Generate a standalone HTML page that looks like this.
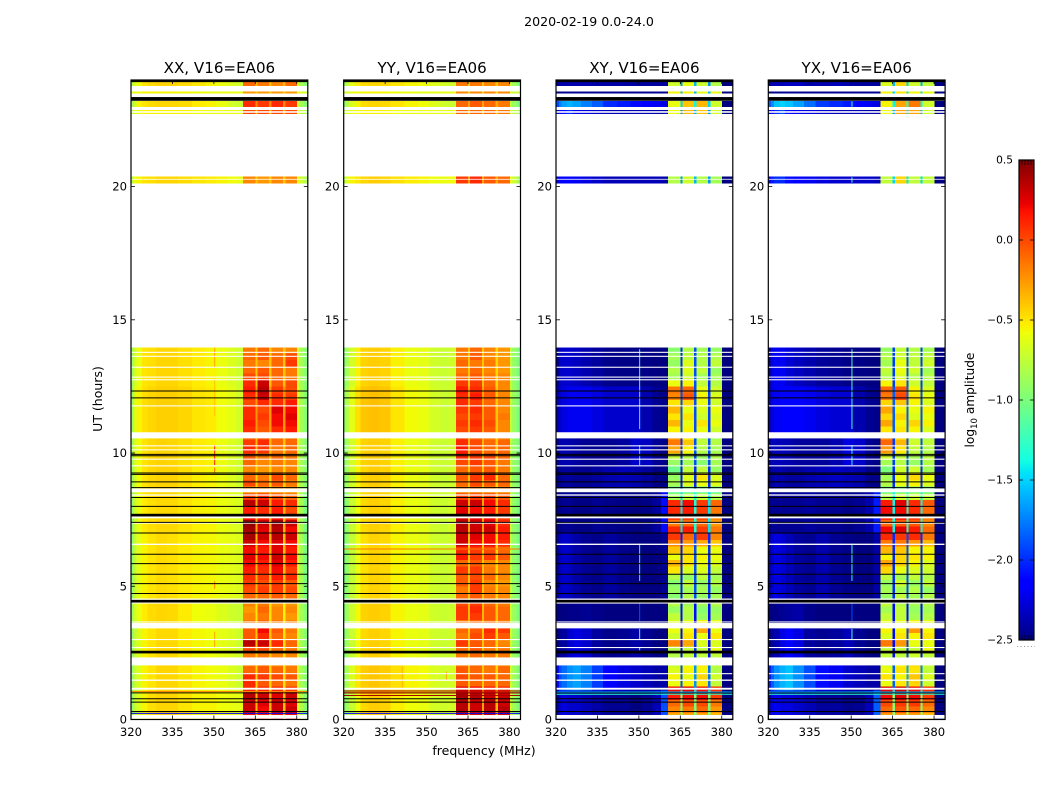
<!DOCTYPE html>
<html>
<head>
<meta charset="utf-8">
<title>2020-02-19 amplitude waterfall</title>
<style>
html,body{margin:0;padding:0;background:#fff;width:1050px;height:800px;overflow:hidden}
svg{display:block}
text{font-family:"DejaVu Sans","Liberation Sans",sans-serif;fill:#000}
</style>
</head>
<body>
<svg id="figure" xmlns="http://www.w3.org/2000/svg" width="1050" height="800" viewBox="0 0 1050 800"></svg>
<script>
// ---------- axis labels ----------
const panelTitles = ["XX, V16=EA06","YY, V16=EA06","XY, V16=EA06","YX, V16=EA06"];
const panelKeys = ["xx","yy","xy","yx"];
const freqTicks = [320,335,350,365,380];
const utTicks = [0,5,10,15,20];
const colorbarTicks = [0.5,0,-0.5,-1,-1.5,-2,-2.5];
const freqRange = [320,384];
const utRange = [0,24];
const ampRange = [-2.5,0.5];

// ---------- frequency zones (MHz) ----------
const lowZoneEdges = [320,321,322,324,326,329,333,337,342,347,351,355,358,360.6];
const gapZones = [[364.9,365.8],[369.9,370.8],[374.9,375.9]];
const edgeZoneEdges = [380,381,382.5,384];
const blockZones = [[360.6,364.9],[365.8,369.9],[370.8,374.9],[375.9,380]];

// ---------- time bands (UT hours) ----------
const coarseBands = [[0,1.1],[1.1,2.05],[2.33,3.6],[3.6,4.5],[4.5,7],[7,8.65],[8.65,9.5],[9.5,10.75],[10.75,12.5],[12.5,14],[20.13,20.37],[22.73,22.88],[23,23.22],[23.5,23.56],[23.78,24]];
const fineRowHours = 0.25;
const upperBands = [[20.13,20.37],[22.73,22.88],[23,23.22],[23.5,23.56],[23.78,24]];

// ---------- flagged (white) and bad (black) times ----------
const flagRanges = [[0.03,0.17],[1.12,1.19],[1.45,1.5],[1.7,1.74],[2.03,2.33],[2.68,2.72],[2.98,3.02],[3.42,3.62],[3.64,3.68],[4.35,4.39],[4.49,4.54],[6.55,6.6],[7.35,7.4],[7.55,7.62],[8.4,8.45],[8.53,8.67],[9.5,9.54],[9.75,9.79],[10.1,10.14],[10.25,10.29],[10.55,10.78],[11.75,11.79],[12.73,12.77],[12.83,12.87],[13.2,13.24],[13.61,13.65],[13.76,13.8],[13.96,14],[20.26,20.29],[22.77,22.83]];
const blackLines = [0.3,0.65,0.78,1.0,4.73,5.1,5.45,5.85,6.2,7.0,7.4,8.0,8.33,8.7,8.92,9.2,9.25,9.9,9.95,12.07,12.33];
const thickBlackRanges = [[2.48,2.58],[4.39,4.49],[7.62,7.72],[23.22,23.36],[23.92,24]];

// ---------- single scans with unusual amplitude: [UT, log10 amp] ----------
const xxScans = [[0.23,-2.2],[1.05,-.2]];
const yyScans = [[0.23,-2.2],[0.9,.4],[1.0,.4],[1.07,.4],[6.4,-.15]];
const xyScans = [[0.95,-1.3],[1.03,-1.6]];
const yxScans = [[0.95,-1.3],[1.03,-1.6]];

// ---------- narrow interference at one channel: [MHz, UT start, UT end, log10 amp] ----------
const xxRfi = [[350.1,9.55,10.3,.1],[350.1,9.25,9.45,-.1],[350.1,13.2,13.95,-.3],[350.1,11.4,12.8,-.4],[350.1,4.9,5.2,-.2],[350.1,2.7,3.3,-.3]];
const yyRfi = [[341,1.2,2,-.35],[357,1.5,1.8,-.3]];
const xyRfi = [[350.1,10.9,13.9,-1.2],[350.1,9.55,10.3,-1.3],[350.1,5.2,6.6,-1.3],[350.1,3.0,3.4,-1.2],[350.1,3.7,4.4,-1.9],[350.1,2.6,2.7,-1.2]];
const yxRfi = [[350.1,10.9,13.9,-1.2],[350.1,9.55,10.3,-1.3],[350.1,5.2,6.6,-1.3],[350.1,3.0,3.4,-1.2],[350.1,3.7,4.4,-1.9],[350.1,20.15,20.35,-1.2],[350.1,23,23.2,-1.2]];

// ---------- low-frequency + gap + upper-edge values per coarse band (log10 amp) ----------
const xxCoarse = [
[-.9,-.75,-.65,-.55,-.48,-.45,-.45,-.5,-.55,-.55,-.58,-.6,-.62,-.35,-.35,-.4,-.65,-.8,-.95],
[-.9,-.75,-.65,-.55,-.5,-.45,-.45,-.5,-.55,-.57,-.6,-.65,-.7,-.45,-.45,-.5,-.7,-.85,-.95],
[-.9,-.75,-.65,-.55,-.5,-.46,-.46,-.52,-.56,-.58,-.62,-.65,-.7,-.4,-.4,-.5,-.7,-.85,-.95],
[-.85,-.7,-.6,-.52,-.47,-.45,-.46,-.52,-.58,-.6,-.65,-.7,-.72,-.5,-.5,-.55,-.7,-.85,-.95],
[-.9,-.75,-.62,-.55,-.5,-.47,-.48,-.52,-.55,-.56,-.6,-.62,-.65,-.35,-.35,-.4,-.7,-.85,-1],
[-.9,-.72,-.6,-.52,-.48,-.46,-.46,-.5,-.54,-.55,-.6,-.63,-.66,-.3,-.3,-.35,-.7,-.85,-1],
[-.85,-.7,-.58,-.5,-.46,-.44,-.44,-.48,-.53,-.55,-.6,-.64,-.7,-.45,-.45,-.45,-.7,-.85,-.95],
[-.85,-.68,-.57,-.5,-.46,-.44,-.45,-.48,-.52,-.54,-.6,-.65,-.7,-.35,-.35,-.4,-.7,-.85,-.95],
[-.85,-.65,-.55,-.48,-.45,-.43,-.43,-.45,-.5,-.52,-.58,-.62,-.68,-.25,-.25,-.25,-.65,-.85,-.95],
[-.85,-.7,-.6,-.5,-.48,-.45,-.45,-.48,-.52,-.55,-.6,-.65,-.7,-.4,-.4,-.4,-.7,-.85,-.95],
[-.75,-.6,-.55,-.5,-.48,-.45,-.45,-.47,-.5,-.52,-.55,-.58,-.6,-.4,-.4,-.4,-.6,-.7,-.8],
[-.75,-.65,-.6,-.55,-.55,-.55,-.55,-.55,-.58,-.6,-.6,-.6,-.62,-.35,-.35,-.35,-.65,-.75,-.85],
[-.85,-.7,-.55,-.5,-.47,-.45,-.45,-.47,-.52,-.55,-.6,-.68,-.72,-.2,-.2,-.2,-.7,-.85,-.95],
[-.65,-.6,-.58,-.55,-.55,-.55,-.55,-.56,-.58,-.6,-.6,-.6,-.6,-.4,-.4,-.4,-.6,-.65,-.7],
[-.8,-.65,-.58,-.5,-.46,-.44,-.44,-.46,-.5,-.55,-.6,-.65,-.68,-.35,-.35,-.35,-.7,-.85,-.95]];
const yyCoarse = [
[-.95,-.85,-.72,-.58,-.46,-.42,-.44,-.53,-.58,-.6,-.68,-.7,-.68,-.3,-.3,-.35,-.7,-.85,-1],
[-.9,-.8,-.65,-.5,-.42,-.4,-.42,-.48,-.55,-.57,-.66,-.7,-.68,-.4,-.4,-.45,-.7,-.85,-1],
[-.95,-.85,-.72,-.58,-.46,-.43,-.45,-.55,-.6,-.62,-.7,-.72,-.7,-.4,-.4,-.45,-.72,-.88,-1],
[-.95,-.85,-.7,-.56,-.44,-.42,-.44,-.55,-.6,-.62,-.7,-.72,-.7,-.35,-.35,-.4,-.72,-.88,-1],
[-1,-.88,-.74,-.6,-.48,-.44,-.46,-.55,-.6,-.62,-.7,-.72,-.7,-.4,-.4,-.45,-.75,-.9,-1.02],
[-1,-.88,-.72,-.58,-.46,-.43,-.45,-.54,-.6,-.62,-.7,-.72,-.68,-.3,-.3,-.35,-.75,-.9,-1.02],
[-.95,-.82,-.7,-.55,-.45,-.42,-.44,-.54,-.6,-.62,-.7,-.72,-.7,-.4,-.4,-.45,-.75,-.9,-1],
[-.95,-.82,-.68,-.54,-.44,-.42,-.44,-.54,-.6,-.62,-.7,-.72,-.7,-.35,-.35,-.4,-.75,-.9,-1],
[-.9,-.78,-.62,-.48,-.4,-.38,-.4,-.5,-.57,-.6,-.68,-.72,-.7,-.3,-.3,-.4,-.75,-.88,-1],
[-.95,-.82,-.68,-.54,-.44,-.42,-.44,-.54,-.6,-.62,-.7,-.72,-.7,-.4,-.4,-.45,-.75,-.9,-1],
[-.75,-.62,-.55,-.5,-.45,-.42,-.44,-.48,-.52,-.55,-.58,-.6,-.58,-.3,-.3,-.3,-.6,-.7,-.85],
[-.75,-.68,-.62,-.58,-.55,-.55,-.55,-.58,-.6,-.6,-.62,-.62,-.62,-.4,-.4,-.4,-.65,-.75,-.85],
[-.9,-.78,-.65,-.55,-.47,-.45,-.46,-.5,-.55,-.58,-.65,-.7,-.72,-.3,-.3,-.3,-.75,-.88,-1],
[-.7,-.65,-.6,-.58,-.56,-.55,-.55,-.58,-.6,-.62,-.62,-.62,-.62,-.45,-.45,-.45,-.65,-.7,-.75],
[-.85,-.72,-.62,-.52,-.47,-.45,-.46,-.5,-.55,-.58,-.64,-.68,-.7,-.4,-.4,-.4,-.72,-.85,-.98]];
const xyCoarse = [
[-2.4,-2.3,-2.25,-2.3,-2.3,-2.35,-2.4,-2.45,-2.45,-2.5,-2.45,-2.35,-1.9,-1,-1,-1,-2.5,-2.5,-2.5],
[-2.1,-1.9,-1.8,-1.7,-1.65,-1.75,-1.95,-2.15,-2.25,-2.3,-2.35,-2.4,-2.4,-1.9,-1.7,-1.8,-2.5,-2.5,-2.5],
[-2.5,-2.45,-2.42,-2.3,-2.25,-2.3,-2.42,-2.47,-2.45,-2.4,-2.45,-2.5,-2.5,-2.1,-2,-2.1,-2.5,-2.5,-2.5],
[-2.5,-2.5,-2.5,-2.47,-2.47,-2.45,-2.47,-2.5,-2.5,-2.5,-2.5,-2.5,-2.5,-2.1,-2.1,-2.1,-2.5,-2.5,-2.5],
[-2.42,-2.35,-2.3,-2.33,-2.4,-2.45,-2.47,-2.42,-2.47,-2.5,-2.5,-2.5,-2.45,-2.05,-1.9,-2,-2.5,-2.5,-2.5],
[-2.5,-2.48,-2.45,-2.45,-2.48,-2.48,-2.45,-2.47,-2.48,-2.5,-2.48,-2.42,-2.1,-1.45,-1.35,-1.45,-2.5,-2.5,-2.5],
[-2.48,-2.45,-2.42,-2.42,-2.45,-2.45,-2.42,-2.38,-2.35,-2.38,-2.42,-2.48,-2.48,-2.05,-2,-2,-2.5,-2.5,-2.5],
[-2.45,-2.38,-2.38,-2.38,-2.42,-2.45,-2.45,-2.45,-2.42,-2.3,-2.33,-2.45,-2.48,-2,-1.9,-1.9,-2.5,-2.5,-2.5],
[-2.38,-2.3,-2.25,-2.2,-2.2,-2.2,-2.25,-2.3,-2.3,-2.3,-2.38,-2.45,-2.47,-1.9,-1.9,-1.95,-2.5,-2.5,-2.5],
[-2.45,-2.33,-2.3,-2.3,-2.33,-2.38,-2.42,-2.47,-2.48,-2.48,-2.48,-2.5,-2.5,-2,-1.9,-2,-2.5,-2.5,-2.5],
[-2.25,-2.2,-2.15,-2.15,-2.2,-2.25,-2.3,-2.35,-2.35,-2.35,-2.35,-2.35,-2.4,-1.7,-1.6,-1.7,-2.5,-2.5,-2.5],
[-2.3,-2.2,-2.1,-2,-2.2,-2.25,-2.3,-2.35,-2.35,-2.35,-2.35,-2.4,-2.4,-1.7,-1.6,-1.7,-2.5,-2.5,-2.5],
[-1.9,-1.75,-1.65,-1.6,-1.65,-1.75,-1.85,-2,-2.05,-2.1,-2.15,-2.2,-2.25,-1.5,-1.4,-1.5,-2.5,-2.5,-2.5],
[-2.5,-2.5,-2.45,-2.45,-2.45,-2.45,-2.45,-2.45,-2.45,-2.45,-2.45,-2.45,-2.45,-1.6,-1.6,-1.6,-2.5,-2.5,-2.5],
[-2.45,-2.4,-2.38,-2.38,-2.38,-2.38,-2.4,-2.4,-2.4,-2.42,-2.42,-2.42,-2.42,-1.7,-1.6,-1.7,-2.5,-2.5,-2.5]];
const yxCoarse = [
[-2.35,-2.25,-2.2,-2.25,-2.25,-2.3,-2.35,-2.42,-2.42,-2.47,-2.45,-2.35,-1.85,-.95,-.95,-1,-2.5,-2.5,-2.5],
[-2.05,-1.85,-1.7,-1.6,-1.55,-1.7,-1.9,-2.1,-2.2,-2.3,-2.35,-2.4,-2.4,-1.85,-1.65,-1.75,-2.5,-2.5,-2.5],
[-2.5,-2.45,-2.38,-2.25,-2.15,-2.25,-2.42,-2.45,-2.42,-2.35,-2.45,-2.5,-2.5,-2.1,-1.95,-2.1,-2.5,-2.5,-2.5],
[-2.5,-2.5,-2.47,-2.45,-2.42,-2.4,-2.47,-2.5,-2.5,-2.5,-2.5,-2.5,-2.5,-2.1,-2.1,-2.1,-2.5,-2.5,-2.5],
[-2.38,-2.3,-2.25,-2.28,-2.35,-2.42,-2.45,-2.38,-2.45,-2.48,-2.5,-2.5,-2.4,-2,-1.9,-2,-2.5,-2.5,-2.5],
[-2.48,-2.45,-2.45,-2.45,-2.45,-2.45,-2.42,-2.45,-2.45,-2.48,-2.45,-2.38,-2.05,-1.4,-1.3,-1.4,-2.5,-2.5,-2.5],
[-2.45,-2.42,-2.38,-2.38,-2.42,-2.42,-2.38,-2.35,-2.32,-2.35,-2.38,-2.47,-2.48,-2,-1.95,-2,-2.5,-2.5,-2.5],
[-2.42,-2.35,-2.35,-2.35,-2.38,-2.42,-2.43,-2.43,-2.38,-2.25,-2.3,-2.45,-2.48,-1.95,-1.9,-1.9,-2.5,-2.5,-2.5],
[-2.33,-2.25,-2.2,-2.15,-2.15,-2.15,-2.2,-2.25,-2.28,-2.28,-2.38,-2.45,-2.47,-1.85,-1.85,-1.9,-2.5,-2.5,-2.5],
[-2.38,-2.25,-2.2,-2.2,-2.28,-2.33,-2.38,-2.43,-2.45,-2.48,-2.48,-2.5,-2.5,-1.95,-1.9,-1.95,-2.5,-2.5,-2.5],
[-2.15,-2.05,-2,-2,-2.1,-2.15,-2.2,-2.25,-2.3,-2.3,-2.3,-2.3,-2.35,-1.5,-1.45,-1.5,-2.5,-2.5,-2.5],
[-2.2,-2.1,-2,-1.9,-2.1,-2.2,-2.25,-2.3,-2.35,-2.35,-2.35,-2.4,-2.4,-1.6,-1.5,-1.6,-2.5,-2.5,-2.5],
[-1.85,-1.7,-1.55,-1.5,-1.55,-1.65,-1.8,-1.95,-2,-2.05,-2.15,-2.2,-2.25,-1.4,-1.3,-1.4,-2.5,-2.5,-2.5],
[-2.5,-2.5,-2.45,-2.45,-2.45,-2.45,-2.45,-2.45,-2.45,-2.45,-2.45,-2.45,-2.45,-1.5,-1.5,-1.5,-2.5,-2.5,-2.5],
[-2.42,-2.38,-2.35,-2.35,-2.32,-2.32,-2.38,-2.38,-2.35,-2.38,-2.42,-2.42,-2.42,-1.6,-1.5,-1.6,-2.5,-2.5,-2.5]];

// ---------- the four bright sub-band blocks: one row per 0.25 h from UT 0 to 14 ----------
const xxBlocks = [
[.2,.15,.2,.2],[.3,.2,.3,.3],[.3,.25,.3,.25],[.35,.3,.25,.3],[.1,.1,.1,.05],[.1,-.05,-.1,-.15],[.1,.05,0,-.05],[-.1,-.05,-.1,-.15],
[-.15,-.1,-.2,-.2],[-.15,-.15,-.2,-.2],[0,0,-.1,-.15],[.35,.3,.1,-.1],[-.05,.1,-.1,-.2],[-.05,.2,-.05,-.15],[-.15,-.1,-.15,-.2],[-.2,-.15,-.2,-.25],
[-.25,-.1,-.2,-.2],[-.2,-.15,-.25,-.25],[-.1,-.1,-.05,-.1],[0,.05,.05,0],[.05,0,.05,-.05],[.1,.05,.15,.1],[.15,.1,.2,.05],[.2,.15,.25,.15],
[.25,.2,.3,.2],[.2,.15,.25,.15],[.3,.2,.25,.2],[.4,.3,.35,.3],[.4,.25,.35,.2],[.45,.3,.4,.3],[.2,.15,.2,.05],[.15,.1,.15,0],
[.35,.3,.15,.1],[.05,.1,0,-.1],[-.25,-.2,-.25,-.25],[0,-.1,-.05,-.15],[-.1,-.15,0,-.1],[-.2,-.25,-.2,-.2],[-.1,-.2,-.15,-.2],[-.05,-.15,-.1,-.15],
[.1,.05,-.15,-.1],[.05,.1,-.1,-.1],[-.05,0,-.1,-.1],[.1,-.05,.1,.15],[.15,0,.2,.2],[.1,.05,.2,.25],[.1,0,.25,.2],[0,.1,.1,.15],
[.1,.3,.1,.05],[.15,.35,.05,0],[.1,.3,-.05,0],[0,0,-.1,-.15],[-.1,-.05,-.1,-.15],[-.15,-.2,-.1,.05],[-.1,-.05,-.1,0],[-.15,-.1,-.2,-.2]];
const yyBlocks = [
[.3,.25,.3,.3],[.35,.3,.35,.35],[.35,.3,.35,.3],[.4,.35,.3,.3],[.25,.2,.15,.1],[-.05,-.1,-.1,-.1],[0,-.05,-.05,-.1],[-.05,-.1,-.15,-.1],
[-.15,-.1,-.1,-.15],[-.15,-.1,-.15,-.15],[-.1,-.05,-.15,-.15],[.05,-.05,-.1,-.2],[-.15,0,.05,-.05],[-.1,-.05,.1,.05],[-.15,-.1,-.1,-.15],[.05,.05,-.05,-.1],
[.05,.1,-.05,-.1],[0,.05,-.1,-.15],[-.1,-.05,-.15,-.2],[-.15,.05,-.15,-.2],[-.05,.05,-.2,-.25],[-.05,0,-.1,-.2],[.05,.05,-.15,-.2],[-.1,-.05,-.2,-.2],
[.15,.05,.05,-.05],[.1,.05,0,-.1],[.3,.2,.2,.1],[.3,.25,.2,.15],[.35,.3,.3,.15],[.35,.3,.25,.1],[.3,.25,.2,.05],[.25,.2,.15,.05],
[.3,.3,.2,.1],[.05,.05,.05,-.05],[-.2,-.15,-.2,-.2],[-.1,0,-.05,-.1],[-.05,.05,.1,-.1],[-.1,-.05,-.05,-.15],[0,.05,-.05,-.15],[.1,.05,0,-.1],
[.15,0,-.1,-.1],[.1,0,-.1,-.1],[.05,-.05,-.15,-.15],[0,.05,-.05,-.2],[.05,.1,0,-.2],[0,.05,-.05,-.15],[.05,.1,-.05,-.2],[.1,.05,-.1,-.2],
[.1,.15,-.05,-.2],[.15,.1,-.05,-.2],[.05,.05,-.1,-.2],[-.1,-.05,-.15,-.2],[-.15,-.1,-.2,-.25],[-.1,-.15,-.15,-.25],[-.15,-.05,-.2,-.25],[-.15,-.1,-.2,-.25]];
const xyBlocks = [
[-.3,-.3,-.3,-.35],[-.2,-.15,-.1,-.25],[-.1,0,0,-.15],[.15,.2,.2,.05],[.2,.25,.2,.1],[-.6,-.55,-.5,-.75],[-.55,-.6,-.45,-.7],[-.65,-.55,-.55,-.8],
[-.75,-.6,-.5,-.75],[-.8,-.75,-.75,-.75],[-.8,-.75,-.75,-.6],[-.2,-.3,-.65,-.65],[-.7,-.5,-.6,-.5],[-.6,-.55,-.3,-.6],[-.65,-.6,-.55,-.6],[-.75,-.8,-.9,-.85],
[-.9,-.8,-.95,-.9],[-.8,-.85,-.85,-.8],[-.95,-.8,-.9,-.85],[-.9,-.85,-.85,-.9],[-.95,-.75,-.9,-.8],[-.8,-.9,-.75,-.85],[-.5,-.65,-.65,-.75],[-.35,-.5,-.6,-.65],
[-.6,-.5,-.55,-.6],[-.4,-.45,-.6,-.6],[-.2,-.25,-.3,-.4],[.05,-.1,.05,-.2],[.1,.15,.05,-.15],[-.15,-.1,-.1,-.25],[.05,.05,0,-.2],[.1,.15,.05,-.15],
[.1,.2,.05,-.1],[-.85,-.75,-.75,-.8],[-1.1,-1.1,-1.05,-1.1],[-.85,-.65,-.6,-.65],[-.9,-.65,-.5,-.65],[-1.05,-.75,-.75,-.9],[-.9,-.85,-.95,-.85],[-.75,-.8,-.9,-.8],
[-.3,-.55,-.8,-.85],[-.15,-.4,-.75,-.8],[-.25,-.5,-.8,-.85],[-.55,-.55,-.6,-.7],[-.35,-.6,-.5,-.6],[-.5,-.5,-.7,-.65],[-.35,-.6,-.65,-.6],[-.5,-.45,-.6,-.7],
[-.2,-.05,-.55,-.65],[-.15,-.1,-.6,-.7],[-.6,-.55,-.75,-.8],[-.85,-.7,-.85,-.85],[-.8,-.65,-.75,-.9],[-.9,-.65,-.8,-.75],[-.85,-.75,-.8,-.8],[-.95,-.8,-.85,-.9]];
const yxBlocks = [
[-.25,-.25,-.25,-.35],[-.1,-.05,-.1,-.2],[0,.05,.05,-.1],[.2,.25,.2,.05],[.25,.3,.2,.1],[-.6,-.5,-.45,-.7],[-.5,-.55,-.4,-.65],[-.6,-.5,-.5,-.75],
[-.7,-.55,-.45,-.7],[-.75,-.75,-.7,-.75],[-.75,-.75,-.75,-.6],[-.15,-.25,-.6,-.6],[-.65,-.5,-.55,-.5],[-.55,-.55,-.25,-.55],[-.6,-.6,-.55,-.6],[-.75,-.75,-.85,-.8],
[-.85,-.75,-.9,-.85],[-.75,-.8,-.85,-.8],[-.9,-.75,-.85,-.8],[-.85,-.85,-.8,-.9],[-.9,-.7,-.9,-.75],[-.75,-.85,-.75,-.8],[-.45,-.6,-.65,-.7],[-.3,-.45,-.55,-.65],
[-.55,-.45,-.5,-.55],[-.35,-.4,-.55,-.55],[-.15,-.15,-.25,-.35],[.1,.05,.1,-.15],[.2,.25,.15,-.1],[-.1,-.05,-.05,-.2],[.1,.15,.05,-.15],[.2,.2,.1,-.1],
[.15,.25,.1,-.05],[-.8,-.7,-.7,-.75],[-1.05,-1.05,-1,-1.05],[-.8,-.6,-.55,-.65],[-.85,-.6,-.45,-.6],[-1,-.7,-.7,-.85],[-.85,-.8,-.9,-.8],[-.7,-.75,-.85,-.75],
[-.25,-.5,-.75,-.8],[-.1,-.35,-.7,-.75],[-.2,-.45,-.75,-.8],[-.5,-.5,-.55,-.65],[-.3,-.55,-.45,-.55],[-.45,-.45,-.65,-.6],[-.3,-.55,-.6,-.55],[-.45,-.4,-.55,-.65],
[-.15,0,-.5,-.6],[-.1,-.05,-.55,-.65],[-.55,-.5,-.7,-.75],[-.8,-.65,-.8,-.8],[-.75,-.6,-.7,-.85],[-.85,-.6,-.75,-.7],[-.8,-.7,-.75,-.75],[-.9,-.75,-.8,-.85]];

// ---------- block values for the isolated scans above UT 14 ----------
const xxUpper = [[-.2,-.25,-.2,-.2],[0,0,0,0],[.1,.05,.1,.05],[-.25,-.25,-.25,-.25],[-.1,-.15,-.2,-.1]];
const yyUpper = [[.05,.1,-.05,-.1],[-.1,-.1,-.1,-.15],[-.1,-.05,-.1,-.15],[-.2,-.2,-.2,-.2],[-.15,-.15,-.2,-.2]];
const xyUpper = [[-.8,-.7,-.8,-.85],[-.6,-.35,-.4,-.7],[-.6,-.4,-.35,-.7],[-.55,-.55,-.6,-.6],[-.7,-.6,-.7,-.8]];
const yxUpper = [[-.75,-.45,-.75,-.75],[-.6,-.3,-.3,-.7],[-.55,-.3,-.15,-.7],[-.55,-.5,-.55,-.6],[-.65,-.45,-.7,-.75]];

const coarseByPanel = {xx:xxCoarse,yy:yyCoarse,xy:xyCoarse,yx:yxCoarse};
const blocksByPanel = {xx:xxBlocks,yy:yyBlocks,xy:xyBlocks,yx:yxBlocks};
const upperByPanel = {xx:xxUpper,yy:yyUpper,xy:xyUpper,yx:yxUpper};
const scansByPanel = {xx:xxScans,yy:yyScans,xy:xyScans,yx:yxScans};
const rfiByPanel = {xx:xxRfi,yy:yyRfi,xy:xyRfi,yx:yxRfi};

// ---------- layout and scales ----------
const NS = 'http://www.w3.org/2000/svg';
const svg = document.getElementById('figure');
const panelLefts = [131,343.7,556,768.3];
const plotW = 176.8, plotTop = 80, plotBottom = 719.5;
const xScale = (left, f) => left + (f - freqRange[0]) / (freqRange[1] - freqRange[0]) * plotW;
const yScale = ut => plotBottom - (ut - utRange[0]) / (utRange[1] - utRange[0]) * (plotBottom - plotTop);
const cbTop = 160, cbBottom = 640, cbLeft = 1019, cbRight = 1034;
const cbScale = v => cbBottom - (v - ampRange[0]) / (ampRange[1] - ampRange[0]) * (cbBottom - cbTop);

function jet(v){
  const t = Math.max(0, Math.min(1, (v - ampRange[0]) / (ampRange[1] - ampRange[0])));
  const ramp = (a,b,c,d) => Math.max(0, Math.min(1, Math.min((t-a)/(b-a), (d-t)/(d-c))));
  const r = t < .89 ? Math.max(0, Math.min(1, (t-.35)/(.66-.35))) : 1 - (t-.89)/.11*.5;
  const g = ramp(.125,.375,.64,.91);
  const b = t < .11 ? .5 + t/.11*.5 : Math.max(0, Math.min(1, (.65-t)/(.65-.34)));
  return 'rgb(' + Math.round(r*255) + ',' + Math.round(g*255) + ',' + Math.round(b*255) + ')';
}
function mk(tag, attrs, parent){
  const el = document.createElementNS(NS, tag);
  for (const k in attrs) el.setAttribute(k, attrs[k]);
  (parent || svg).appendChild(el);
  return el;
}
function bandRect(parent, x0, x1, y0, y1, fill){
  return mk('rect', {x:x0.toFixed(2), y:y1.toFixed(2), width:(x1-x0+0.3).toFixed(2), height:(y0-y1+0.3).toFixed(2), fill:fill, 'shape-rendering':'crispEdges'}, parent);
}

// ---------- figure-level labels ----------
const sup = mk('text', {x:589, y:26, 'text-anchor':'middle', 'font-size':'12.6'});
sup.textContent = '2020-02-19 0.0-24.0';


const xLab = mk('text', {x:484, y:755, 'text-anchor':'middle', 'font-size':'12.5'});
xLab.textContent = 'frequency (MHz)';


const yLab = mk('text', {x:102, y:399, 'text-anchor':'middle', 'font-size':'12.5', transform:'rotate(-90 102 399)'});
yLab.textContent = 'UT (hours)';



// ---------- panels ----------
panelKeys.forEach((key, p) => {
  const left = panelLefts[p];
  const X = f => xScale(left, f);
  const g = mk('g', {});
  
  
  const coarse = coarseByPanel[key], blocks = blocksByPanel[key], upper = upperByPanel[key];
  const nLow = lowZoneEdges.length - 1, nGap = gapZones.length;

  coarseBands.forEach((band, b) => {
    const y0 = yScale(band[0]), y1 = yScale(band[1]);
    for (let z = 0; z < nLow; z++) {
      const c = bandRect(g, X(lowZoneEdges[z]), X(lowZoneEdges[z+1]), y0, y1, jet(coarse[b][z]));
      
      
    }
    gapZones.forEach((gz, z) => {
      const c = bandRect(g, X(gz[0]), X(gz[1]), y0, y1, jet(coarse[b][nLow+z]));
      
      
    });
    for (let z = 0; z < edgeZoneEdges.length - 1; z++) {
      const c = bandRect(g, X(edgeZoneEdges[z]), X(edgeZoneEdges[z+1]), y0, y1, jet(coarse[b][nLow+nGap+z]));
      
      
    }
  });

  blocks.forEach((row, i) => {
    const y0 = yScale(i * fineRowHours), y1 = yScale((i + 1) * fineRowHours);
    row.forEach((v, z) => {
      const c = bandRect(g, X(blockZones[z][0]), X(blockZones[z][1]), y0, y1, jet(v));
      
      
    });
  });
  upper.forEach((row, i) => {
    const y0 = yScale(upperBands[i][0]), y1 = yScale(upperBands[i][1]);
    row.forEach((v, z) => {
      const c = bandRect(g, X(blockZones[z][0]), X(blockZones[z][1]), y0, y1, jet(v));
      
      
    });
  });

  // narrow-band interference
  rfiByPanel[key].forEach(r => {
    const c = mk('rect', {x:X(r[0]).toFixed(2), y:yScale(r[2]).toFixed(2), width:1, height:(yScale(r[1])-yScale(r[2])).toFixed(2), fill:jet(r[3])}, g);
    
    
  });

  // flagged (white) times
  flagRanges.forEach(r => {
    const c = mk('rect', {x:left, y:yScale(r[1]).toFixed(2), width:plotW, height:(yScale(r[0])-yScale(r[1])).toFixed(2), fill:'#fff'}, g);
    
    
  });
  // bad (black) times
  blackLines.forEach(ut => {
    const c = mk('line', {x1:left, x2:left+plotW, y1:yScale(ut).toFixed(2), y2:yScale(ut).toFixed(2), stroke:'#000', 'stroke-width':1}, g);
    
    
  });
  thickBlackRanges.forEach(r => {
    const c = mk('rect', {x:left, y:yScale(r[1]).toFixed(2), width:plotW, height:(yScale(r[0])-yScale(r[1])).toFixed(2), fill:'#000'}, g);
    
    
  });
  // single anomalous scans
  scansByPanel[key].forEach(s => {
    const c = mk('line', {x1:left, x2:left+plotW, y1:yScale(s[0]).toFixed(2), y2:yScale(s[0]).toFixed(2), stroke:jet(s[1]), 'stroke-width':1}, g);
    
    
  });

  // frame
  const frame = mk('rect', {x:left, y:plotTop, width:plotW, height:plotBottom-plotTop, fill:'none', stroke:'#000', 'stroke-width':1.2}, g);
  
  

  // x ticks + labels
  freqTicks.forEach(f => {
    const x = X(f);
    const t1 = mk('line', {x1:x, x2:x, y1:plotBottom, y2:plotBottom-4, stroke:'#000', 'stroke-width':.8}, g);
    
    
    const t2 = mk('line', {x1:x, x2:x, y1:plotTop, y2:plotTop+4, stroke:'#000', 'stroke-width':.8}, g);
    
    
    const l = mk('text', {x:x, y:736, 'text-anchor':'middle', 'font-size':'11.6'}, g);
    l.textContent = f;
    
    
  });
  // y ticks + labels
  utTicks.forEach(u => {
    const y = yScale(u);
    const t1 = mk('line', {x1:left, x2:left+4, y1:y, y2:y, stroke:'#000', 'stroke-width':.8}, g);
    
    
    const t2 = mk('line', {x1:left+plotW-4, x2:left+plotW, y1:y, y2:y, stroke:'#000', 'stroke-width':.8}, g);
    
    
    const l = mk('text', {x:left-4, y:y+4, 'text-anchor':'end', 'font-size':'11.6'}, g);
    l.textContent = u;
    
    
  });
  // title
  const title = mk('text', {x:left+plotW/2, y:73, 'text-anchor':'middle', 'font-size':'15.1'}, g);
  title.textContent = panelTitles[p];
  
  
});

// ---------- colorbar ----------
const cb = mk('g', {});


for (let y = cbTop; y < cbBottom; y += 2) {
  const v = ampRange[1] - (y + 1 - cbTop) / (cbBottom - cbTop) * (ampRange[1] - ampRange[0]);
  const s = mk('rect', {x:cbLeft, y:y, width:cbRight-cbLeft, height:2.2, fill:jet(v), 'shape-rendering':'crispEdges'}, cb);
  
  
}
const cbFrame = mk('rect', {x:cbLeft, y:cbTop, width:cbRight-cbLeft, height:cbBottom-cbTop, fill:'none', stroke:'#000', 'stroke-width':1.2}, cb);


colorbarTicks.forEach(v => {
  const y = cbScale(v);
  const t1 = mk('line', {x1:cbLeft, x2:cbLeft+4, y1:y, y2:y, stroke:'#000', 'stroke-width':.8}, cb);
  
  
  const t2 = mk('line', {x1:cbRight-4, x2:cbRight, y1:y, y2:y, stroke:'#000', 'stroke-width':.8}, cb);
  
  
  const l = mk('text', {x:1013, y:y+3.5, 'text-anchor':'end', 'font-size':'10.6'}, cb);
  l.textContent = v.toFixed(1).replace('-', '\u2212');
  
  
});
[1022,1025,1028,1031].forEach(x => {
  const a = mk('line', {x1:x, x2:x, y1:cbTop, y2:cbTop+5, stroke:'#000', 'stroke-width':.7}, cb);
  
  
  const b = mk('line', {x1:x, x2:x, y1:cbBottom-5, y2:cbBottom, stroke:'#000', 'stroke-width':.7}, cb);
  
  
});
const dots = mk('line', {x1:1017, x2:1035, y1:646.5, y2:646.5, stroke:'#999', 'stroke-width':1, 'stroke-dasharray':'1 2.5'}, cb);


const cbLab = mk('text', {x:974, y:400, 'text-anchor':'middle', 'font-size':'12.2', transform:'rotate(-90 974 400)'}, cb);


const t1 = mk('tspan', {}, cbLab); t1.textContent = 'log';
const t2 = mk('tspan', {dy:'3', 'font-size':'8.5'}, cbLab); t2.textContent = '10';
const t3 = mk('tspan', {dy:'-3'}, cbLab); t3.textContent = ' amplitude';
</script>
</body>
</html>
